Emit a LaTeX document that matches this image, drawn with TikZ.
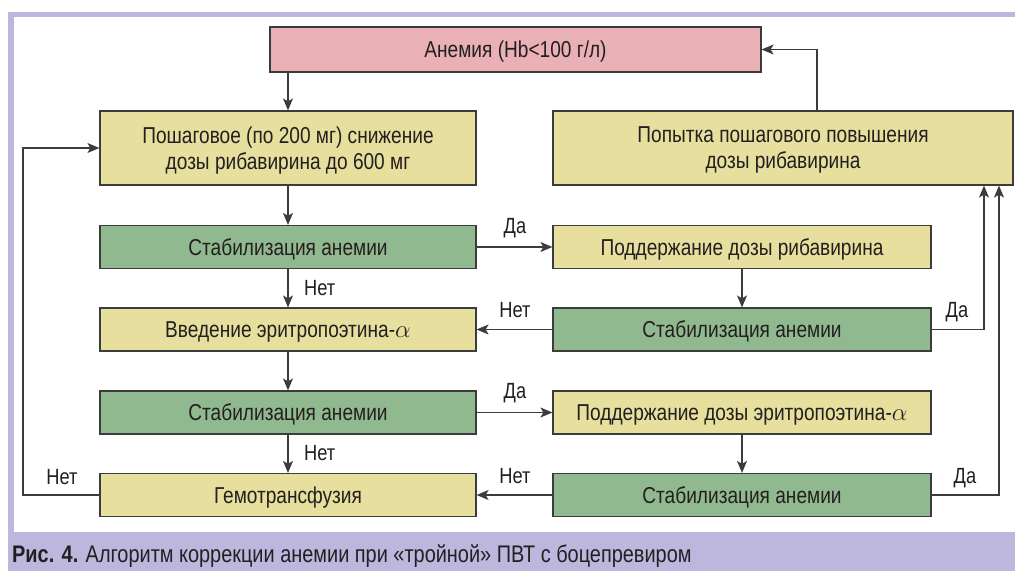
\documentclass[tikz,border=0pt]{standalone}
\usepackage{fontspec}
\setmainfont{Liberation Sans}[FakeStretch=0.83]
\usetikzlibrary{arrows.meta}
\definecolor{pinkbox}{HTML}{E9B0B6}
\definecolor{yelbox}{HTML}{E6DF9D}
\definecolor{grnbox}{HTML}{90B98F}
\definecolor{lav}{HTML}{BDB7DD}
\definecolor{edgec}{HTML}{3C3C3C}
\definecolor{ink}{HTML}{231F20}
\begin{document}
\begin{tikzpicture}[x=1pt,y=-1pt,
  box/.style={draw=edgec,line width=1.2pt,inner sep=0pt,text=ink,align=center,
    text depth=0pt,font=\fontsize{23}{26}\selectfont},
  lbox/.style={box,minimum width=376pt,minimum height=43pt},
  rbox/.style={box,minimum width=378pt,minimum height=43pt},
  yel/.style={fill=yelbox},
  grn/.style={fill=grnbox},
  arr/.style={draw=edgec,line width=1.1pt,-{Stealth[length=12pt,width=10pt,inset=3pt]}},
  lbl/.style={text=ink,font=\fontsize{22}{25}\selectfont,inner sep=0pt}
]
\useasboundingbox (0,0) rectangle (1015,571);
% frame
\fill[lav] (8,12) rectangle (1015,571);
\fill[white] (14,17) rectangle (1015,532);
% boxes
\node[box,fill=pinkbox,minimum width=491pt,minimum height=45pt] (anem) at (515.5,49.5) {Анемия (Hb<100 г/л)};
\node[lbox,yel,minimum height=74pt] (b1) at (288,148) {Пошаговое (по 200 мг) снижение\\дозы рибавирина до 600 мг};
\node[box,yel,minimum width=460pt,minimum height=74pt] (rb) at (783,148) {Попытка пошагового повышения\\дозы рибавирина};
\node[lbox,grn] (g1) at (288,247) {Стабилизация анемии};
\node[rbox,yel] (y1r) at (742,247) {Поддержание дозы рибавирина};
\node[rbox,grn] (g1r) at (742,329.5) {Стабилизация анемии};
\node[lbox,yel] (y2) at (288,329.5) {Введение эритропоэтина-$\alpha$};
\node[lbox,grn] (g2) at (288,412.5) {Стабилизация анемии};
\node[rbox,yel] (y2r) at (742,412.5) {Поддержание дозы эритропоэтина-$\alpha$};
\node[lbox,yel] (gem) at (288,495) {Гемотрансфузия};
\node[rbox,grn] (g2r) at (742,495) {Стабилизация анемии};
\coordinate (lft) at (23,0);
% connectors
\draw[arr] (b1.north |- anem.south) -- (b1.north);
\draw[arr] ([xshift=34pt]rb.north) |- (anem.east);
\draw[arr] (b1) -- (g1);
\draw[arr] (g1) -- (y1r);
\draw[arr] (y1r) -- (g1r);
\draw[arr] (g1r) -- (y2);
\draw[arr] (g1) -- (y2);
\draw[arr] (y2) -- (g2);
\draw[arr] (g2) -- (y2r);
\draw[arr] (y2r) -- (g2r);
\draw[arr] (g2r) -- (gem);
\draw[arr] (g2) -- (gem);
\draw[arr] (g1r.east) -| ([xshift=201pt]rb.south);
\draw[arr] (g2r.east) -| ([xshift=216pt]rb.south);
\draw[arr] (gem.west) -- (gem.west -| lft) |- (b1.west);
% labels
\node[lbl] (l1) at (515,228) {Да};
\node[lbl] (l2) at (515,310) {Нет};
\node[lbl] (l3) at (957,312) {Да};
\node[lbl,anchor=west] (l4) at (304,288) {Нет};
\node[lbl] (l5) at (515,393) {Да};
\node[lbl] (l6) at (515,476) {Нет};
\node[lbl,anchor=west] (l7) at (304,453) {Нет};
\node[lbl] (l8) at (965,478) {Да};
\node[lbl] (l9) at (62,477) {Нет};
% caption
\node[anchor=base west,inner sep=0pt,text=ink,font=\fontsize{24}{26}\selectfont] (cap) at (12,562) {\textbf{Рис. 4.} Алгоритм коррекции анемии при «тройной» ПВТ с боцепревиром};
\end{tikzpicture}
\end{document}
